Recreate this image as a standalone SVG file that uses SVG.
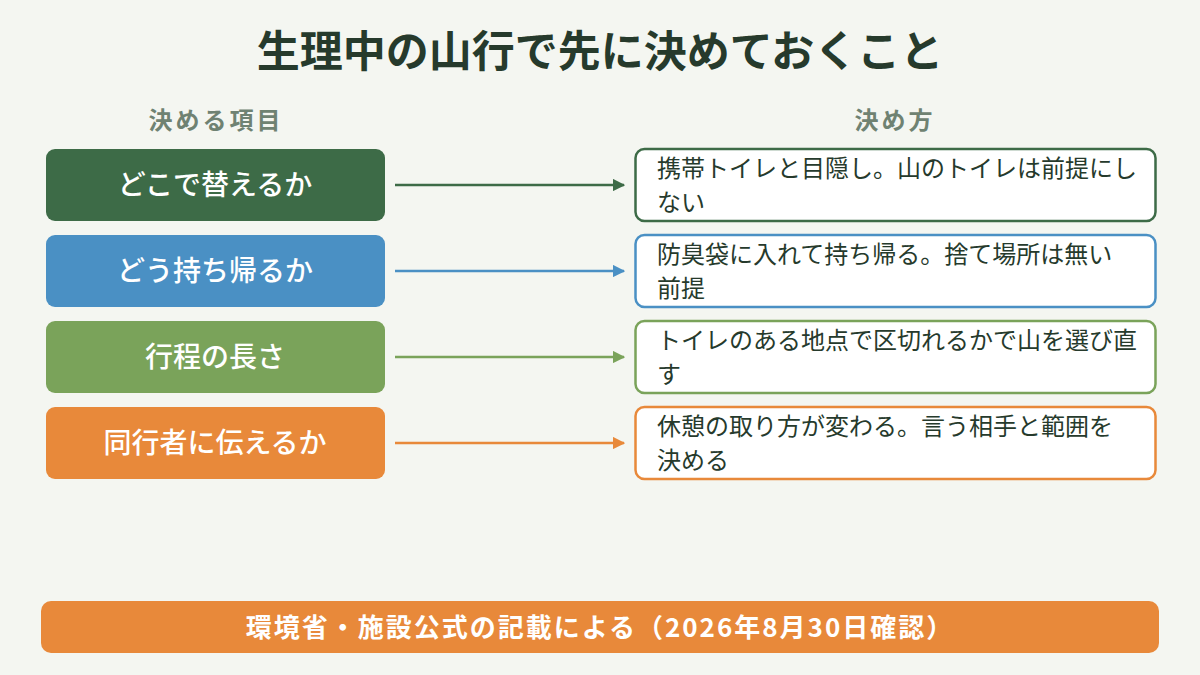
<svg xmlns="http://www.w3.org/2000/svg" width="1200" height="675" viewBox="0 0 1200 675">
<defs>
<style>
text{font-family:"Noto Sans CJK JP","Noto Sans",sans-serif}
.title{font-size:43px;font-weight:700;fill:#263a2c;text-anchor:middle}
.head{font-size:24px;font-weight:700;fill:#6f8272;text-anchor:middle;letter-spacing:3px}
.lt{font-size:28px;font-weight:500;fill:#fff;text-anchor:middle}
.rt{font-size:24px;fill:#263a2c}
.rbox{fill:#fff;stroke-width:2.5}
.conn{stroke-width:2.5;fill:none}
.foot{font-size:26px;font-weight:700;fill:#fff;text-anchor:middle;letter-spacing:2px}
</style>
<marker id="ag" viewBox="0 0 10 10" refX="9" refY="5" markerWidth="5" markerHeight="5" orient="auto"><path d="M0,0L10,5L0,10z" fill="#3d6b47"/></marker>
<marker id="ab" viewBox="0 0 10 10" refX="9" refY="5" markerWidth="5" markerHeight="5" orient="auto"><path d="M0,0L10,5L0,10z" fill="#4a90c4"/></marker>
<marker id="al" viewBox="0 0 10 10" refX="9" refY="5" markerWidth="5" markerHeight="5" orient="auto"><path d="M0,0L10,5L0,10z" fill="#7aa35a"/></marker>
<marker id="ao" viewBox="0 0 10 10" refX="9" refY="5" markerWidth="5" markerHeight="5" orient="auto"><path d="M0,0L10,5L0,10z" fill="#e8893a"/></marker>
</defs>
<rect width="1200" height="675" fill="#f4f6f1"/>
<text class="title" x="600" y="67">生理中の山行で先に決めておくこと</text>
<text class="head" x="216" y="129">決める項目</text>
<text class="head" x="895" y="129">決め方</text>

<g id="left1"><rect x="46" y="149" width="339" height="72" rx="9" fill="#3d6b47"/><text class="lt" x="215" y="195">どこで替えるか</text></g>
<g id="left2"><rect x="46" y="235" width="339" height="72" rx="9" fill="#4a90c4"/><text class="lt" x="215" y="281">どう持ち帰るか</text></g>
<g id="left3"><rect x="46" y="321" width="339" height="72" rx="9" fill="#7aa35a"/><text class="lt" x="215" y="367">行程の長さ</text></g>
<g id="left4"><rect x="46" y="407" width="339" height="72" rx="9" fill="#e8893a"/><text class="lt" x="215" y="453">同行者に伝えるか</text></g>

<g id="right1"><rect class="rbox" x="635.5" y="149" width="520" height="72" rx="9" stroke="#3d6b47"/><text class="rt" x="657" y="177">携帯トイレと目隠し。山のトイレは前提にし</text><text class="rt" x="657" y="211">ない</text></g>
<g id="right2"><rect class="rbox" x="635.5" y="235" width="520" height="72" rx="9" stroke="#4a90c4"/><text class="rt" x="657" y="263">防臭袋に入れて持ち帰る。捨て場所は無い</text><text class="rt" x="657" y="297">前提</text></g>
<g id="right3"><rect class="rbox" x="635.5" y="321" width="520" height="72" rx="9" stroke="#7aa35a"/><text class="rt" x="657" y="349">トイレのある地点で区切れるかで山を選び直</text><text class="rt" x="657" y="383">す</text></g>
<g id="right4"><rect class="rbox" x="635.5" y="407" width="520" height="72" rx="9" stroke="#e8893a"/><text class="rt" x="657" y="435">休憩の取り方が変わる。言う相手と範囲を</text><text class="rt" x="657" y="469">決める</text></g>

<g id="connectors">
<line class="conn" x1="395" y1="185" x2="624" y2="185" stroke="#3d6b47" marker-end="url(#ag)"/>
<line class="conn" x1="395" y1="271" x2="624" y2="271" stroke="#4a90c4" marker-end="url(#ab)"/>
<line class="conn" x1="395" y1="357" x2="624" y2="357" stroke="#7aa35a" marker-end="url(#al)"/>
<line class="conn" x1="395" y1="443" x2="624" y2="443" stroke="#e8893a" marker-end="url(#ao)"/>
</g>

<g id="footer"><rect x="41" y="601" width="1118" height="52" rx="10" fill="#e8893a"/><text class="foot" x="600" y="637">環境省・施設公式の記載による（2026年8月30日確認）</text></g>
</svg>
